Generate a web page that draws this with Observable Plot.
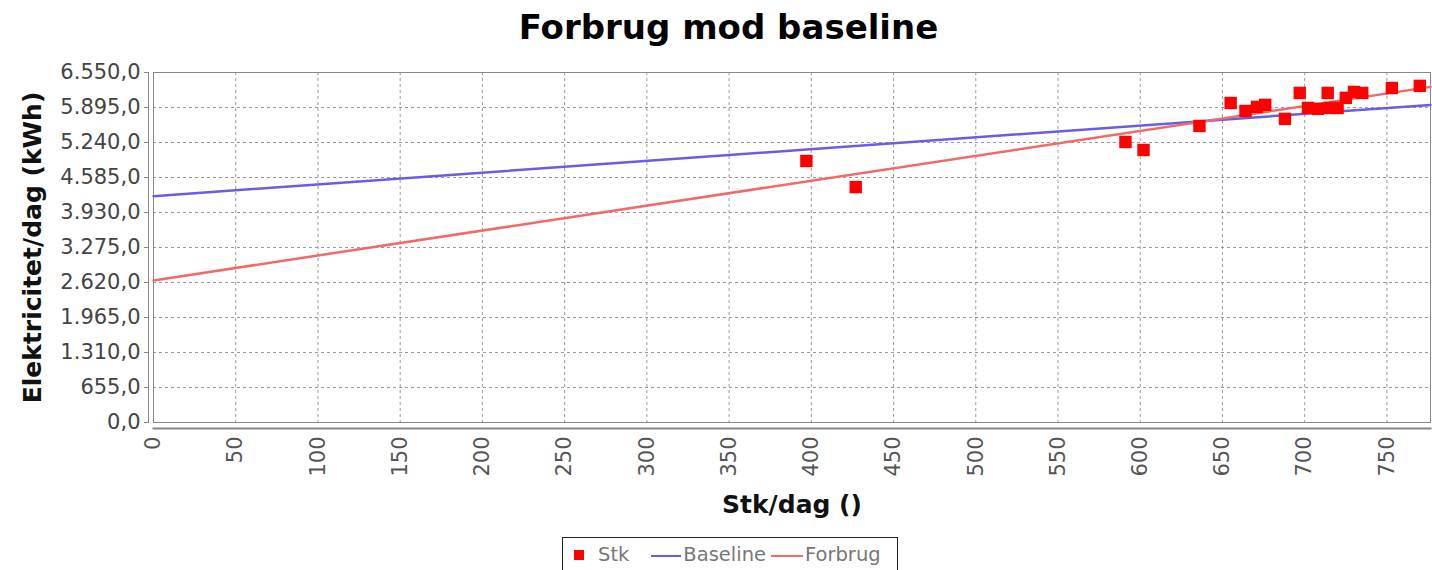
<!DOCTYPE html>
<html><head><meta charset="utf-8">
<script src="https://cdn.jsdelivr.net/npm/d3@7"></script>
<script src="https://cdn.jsdelivr.net/npm/@observablehq/plot@0.6"></script>
<style>
body{margin:0;background:#fff;font-family:"DejaVu Sans",sans-serif;width:1432px;height:570px;overflow:hidden;position:relative}
#title{position:absolute;left:0;top:7px;width:1432px;text-align:center;font-weight:bold;font-size:34px;color:#000;padding-left:25px;box-sizing:border-box}
#chart{position:absolute;left:0;top:56px}
#legend{position:absolute;left:562px;top:537px;width:336px;height:40px;border:1px solid #222;box-sizing:border-box;display:flex;align-items:flex-start;padding-top:5px;font-size:19.5px;color:#777}
.sw{display:inline-block}
</style></head><body>
<div id="title">Forbrug mod baseline</div>
<div id="chart"></div>
<div id="legend">
 <span class="sw" style="width:10px;height:10px;background:#f00;margin:7px 14px 0 11px"></span><span>Stk</span>
 <span class="sw" style="width:30px;height:2px;background:#6a5ce6;margin:12px 2px 0 22px"></span><span>Baseline</span>
 <span class="sw" style="width:32px;height:2px;background:#ef6a6a;margin:12px 2px 0 5px"></span><span>Forbrug</span>
</div>
<script>
// Scatter data: Stk/dag vs Elektricitet/dag
const stkX = [397, 427, 591, 602, 636, 655, 664, 671, 676, 688, 697, 702, 708, 714, 715, 720, 725, 730, 735, 753, 770];
const stkY = [4894, 4405, 5250, 5100, 5550, 5979, 5830, 5907, 5944, 5682, 6167, 5887, 5870, 6167, 5887, 5887, 6075, 6186, 6167, 6260, 6300];
// Regression lines (end points)
const lineX = [0, 776.5];
const baselineY = [4236, 5944];
const forbrugY = [2659, 6281];
// Ticks
const xTicks = [0,50,100,150,200,250,300,350,400,450,500,550,600,650,700,750];
const yTicks = [0,655,1310,1965,2620,3275,3930,4585,5240,5895,6550];

const pts = stkX.map((x,i)=>({x, y: stkY[i]}));
const base = lineX.map((x,i)=>({x, y: baselineY[i]}));
const forb = lineX.map((x,i)=>({x, y: forbrugY[i]}));
const loc = d3.formatLocale({decimal:",", thousands:".", grouping:[3], currency:["",""]});
const fmt = loc.format(",.1f");

const chart = Plot.plot({
  width: 1432, height: 475,
  marginLeft: 153, marginRight: 2, marginTop: 16, marginBottom: 109,
  style: {fontFamily: "DejaVu Sans, sans-serif", fontSize: "21px", color: "#444", background: "#fff"},
  x: {domain: [0, 776.5], ticks: xTicks},
  y: {domain: [0, 6550], ticks: yTicks},
  marks: [
    Plot.gridX(xTicks, {stroke: "#999", strokeOpacity: 1, strokeDasharray: "3,3"}),
    Plot.gridY(yTicks, {stroke: "#999", strokeOpacity: 1, strokeDasharray: "3,3"}),
    Plot.frame({stroke: "#888"}),
    Plot.frame({anchor: "left", dx: -5, stroke: "#888"}),
    Plot.frame({anchor: "bottom", dy: 6, stroke: "#888", strokeWidth: 2}),
    Plot.axisY(yTicks, {tickFormat: fmt, tickSize: 4, dx: -5, tickPadding: 4, fill: "#444", stroke: "#888",
      label: "Elektricitet/dag (kWh)", labelAnchor: "center", labelArrow: "none", labelOffset: 130}),
    Plot.axisX(xTicks, {tickFormat: d => String(d), tickRotate: -90, tickSize: 0, dy: 6, tickPadding: 8, fill: "#555",
      label: "Stk/dag ()", labelAnchor: "center", labelArrow: "none", labelOffset: 90}),
    Plot.line(base, {x: "x", y: "y", stroke: "#6a5ce6", strokeWidth: 2.5}),
    Plot.line(forb, {x: "x", y: "y", stroke: "#ef6a6a", strokeWidth: 2.5}),
    Plot.dot(pts, {x: "x", y: "y", symbol: "square", r: 7, fill: "#f00", stroke: "none"})
  ]
});
document.getElementById("chart").appendChild(chart);
// style axis labels bold/dark
chart.querySelectorAll("g[aria-label='y-axis label'] text, g[aria-label='x-axis label'] text").forEach(t=>{
  t.setAttribute("font-weight","bold"); t.setAttribute("font-size","25px"); t.setAttribute("fill","#111");
});
</script>
</body></html>
